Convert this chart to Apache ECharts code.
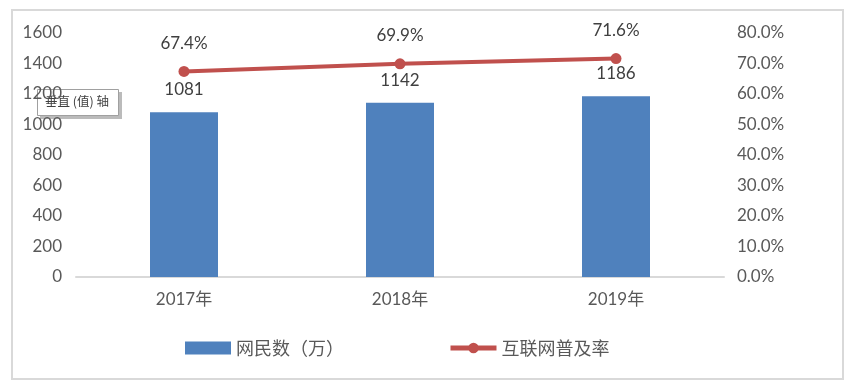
<!DOCTYPE html>
<html><head><meta charset="utf-8">
<script src="https://cdn.jsdelivr.net/npm/echarts@6/dist/echarts.min.js"></script>
<style>html,body{margin:0;padding:0;background:#fff}#c{width:854px;height:388px}</style>
</head><body><div id="c"></div>
<script>
const categories = ['2017年','2018年','2019年'];
const netizens = [1081, 1142, 1186];
const penetration = [67.4, 69.9, 71.6];
const leftTicks = [0,200,400,600,800,1000,1200,1400,1600];
const rightTicks = ['0.0%','10.0%','20.0%','30.0%','40.0%','50.0%','60.0%','70.0%','80.0%'];

const chart = echarts.init(document.getElementById('c'));
const txt = '#595959';
const font = 'Lato, "Open Sans", "Noto Sans CJK SC", sans-serif';
chart.setOption({
  animation: false,
  textStyle: {fontFamily: font},
  grid: {left: 76, right: 130, top: 33, bottom: 111},
  legend: {
    bottom: 26, left: 180, itemGap: 104,
    textStyle: {color: txt, fontSize: 18, fontFamily: '"Noto Sans CJK SC", sans-serif'},
    data: [
      {name: '网民数（万）', icon: 'rect', itemStyle: {color: '#4F81BD'}},
      {name: '互联网普及率', lineStyle: {width: 5, color: '#C0504D'}}
    ],
    itemWidth: 46, itemHeight: 13
  },
  xAxis: {
    type: 'category', data: categories,
    axisLine: {lineStyle: {color: '#d9d9d9', width: 2}},
    axisTick: {show: false},
    axisLabel: {color: txt, fontSize: 17, margin: 14}
  },
  yAxis: [
    {type: 'value', min: 0, max: 1600, interval: 200,
     splitLine: {show: false}, axisLine: {show: false}, axisTick: {show: false},
     axisLabel: {color: txt, fontSize: 17, margin: 14,
       formatter: v => String(leftTicks[Math.round(v/200)])}},
    {type: 'value', min: 0, max: 80, interval: 10,
     splitLine: {show: false}, axisLine: {show: false}, axisTick: {show: false},
     axisLabel: {color: txt, fontSize: 17, margin: 13,
       formatter: v => rightTicks[Math.round(v/10)]}}
  ],
  series: [
    {name: '网民数（万）', type: 'bar', data: netizens, barWidth: 68,
     itemStyle: {color: '#4F81BD'},
     label: {show: true, position: 'top', distance: 14, color: '#404040', fontSize: 17}},
    {name: '互联网普及率', type: 'line', yAxisIndex: 1, data: penetration,
     symbol: 'circle', symbolSize: 11,
     lineStyle: {color: '#C0504D', width: 4},
     itemStyle: {color: '#C0504D'},
     label: {show: true, position: 'top', distance: 14, color: '#404040', fontSize: 17,
       formatter: p => p.value.toFixed(1) + '%'}}
  ],
  graphic: [
    {type: 'rect', shape: {x: 12, y: 10, width: 831, height: 369},
     style: {fill: null, stroke: '#d9d9d9', lineWidth: 2}, silent: true},
    {type: 'rect', shape: {x: 40, y: 92, width: 82, height: 27},
     style: {fill: '#bbbbbb'}, silent: true},
    {type: 'rect', shape: {x: 37.5, y: 89.5, width: 81, height: 26},
     style: {fill: '#ffffff', stroke: '#a0a0a0', lineWidth: 1}, silent: true},
    {type: 'text', x: 45, y: 95,
     style: {text: '垂直 (值) 轴', fill: '#404040', fontSize: 12.5,
       fontFamily: '"Noto Sans CJK SC", sans-serif'}, silent: true}
  ]
});
</script></body></html>
